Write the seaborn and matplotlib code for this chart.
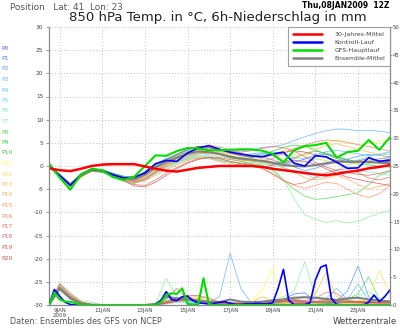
import matplotlib
matplotlib.use("Agg")
import matplotlib.pyplot as plt
from matplotlib.lines import Line2D
import numpy as np
import pandas as pd
import seaborn as sns

# ---------------- data ----------------
hours12 = list(range(0, 385, 12))
hours6 = list(range(0, 385, 6))

xtick_hours = [12, 60, 108, 156, 204, 252, 300, 348]
xtick_labels = ["9JAN\n2009", "11JAN", "13JAN", "15JAN", "17JAN", "19JAN", "21JAN", "23JAN"]

member_names = ["P%d" % i for i in range(1, 21)]
label_names = ["P%d" % i for i in range(0, 21)]
label_colors = ["#6060ff", "#4a78ff", "#5a9aff", "#70b8ff", "#60c8ff", "#70e0ff",
                "#80f0d0", "#90f0a0", "#60e060", "#40d040", "#40c040", "#ffff40",
                "#ffe060", "#ffc050", "#ffb060", "#ff9c70", "#f08870", "#e07868",
                "#d86c6c", "#d06060", "#c05858"]

climate_temp = [-0.5, -0.9, -1.1, -0.6, 0.0, 0.3, 0.4, 0.4, 0.4, -0.1, -0.6, -1.0, -1.2,
                -0.8, -0.4, -0.2, 0.0, 0.0, 0.0, 0.0, -0.2, -0.6, -0.9, -1.2, -1.5, -1.8,
                -2.0, -1.7, -1.3, -1.0, -0.5, -0.2, 0.2]
mean_temp = [0.0, -2.0, -4.0, -2.0, -0.8, -1.0, -1.8, -2.5, -2.9, -1.8, -0.3, 0.9, 1.8,
             2.6, 3.1, 3.0, 2.6, 2.0, 1.6, 1.4, 1.1, 0.7, 0.2, 0.0, -0.1, 0.2, 0.6, 0.9,
             0.9, 0.9, 0.9, 0.7, 0.6]
main_temp = [0.6, -2.5, -5.1, -1.8, -0.7, -0.9, -2.4, -3.0, -2.3, 0.0, 2.3, 2.2, 3.2,
             3.9, 3.8, 3.4, 3.4, 3.5, 3.6, 3.6, 3.3, 2.6, 0.8, 3.4, 4.3, 4.5, 5.0, 1.8,
             3.0, 3.3, 5.6, 3.5, 6.2]
control_temp = [0.0, -2.0, -4.2, -1.8, -0.7, -1.0, -1.9, -2.6, -2.4, -1.5, 0.5, 1.2, 1.0,
                2.8, 3.9, 4.4, 3.6, 3.0, 2.6, 2.2, 2.0, 2.6, 3.0, 0.6, 0.0, 2.2, 2.0, 0.8,
                -0.5, -0.4, 1.8, 1.0, 1.3]

p1_temp = [0.1, -2.2, -4.3, -1.9, -0.6, -0.9, -1.7, -2.3, -2.6, -1.2, 0.4, 1.6, 2.4, 3.4, 4.3, 4.0, 3.4, 2.8, 2.2, 1.9, 2.0, 1.3, 0.5, 0.8, 1.5, 2.2, 2.6, 1.9, 1.2, 0.8, 1.0, 1.6, 1.8]
p2_temp = [-0.1, -2.0, -3.8, -2.2, -1.0, -1.2, -2.0, -2.8, -3.1, -2.0, -0.6, 0.8, 1.9, 2.9, 3.3, 3.5, 3.2, 2.6, 2.4, 2.6, 2.9, 2.2, 1.0, -0.2, -1.0, -0.5, 0.3, 0.8, 1.5, 2.1, 2.5, 2.3, 2.0]
p3_temp = [0.0, -1.9, -3.9, -2.0, -0.9, -0.8, -1.6, -2.2, -2.5, -1.5, 0.2, 1.5, 2.6, 3.5, 4.0, 4.2, 4.0, 3.6, 3.3, 3.5, 4.0, 4.2, 4.6, 5.5, 6.3, 7.0, 7.6, 8.0, 7.9, 7.6, 7.7, 7.5, 7.2]
p4_temp = [0.2, -2.1, -4.1, -2.1, -0.7, -1.1, -1.9, -2.6, -3.2, -2.3, -0.8, 0.5, 1.5, 2.2, 2.8, 2.5, 2.0, 1.5, 1.8, 2.3, 2.6, 3.0, 2.4, 1.8, 1.6, 2.4, 3.1, 3.4, 3.0, 2.6, 2.2, 2.5, 2.9]
p5_temp = [-0.2, -2.0, -4.0, -2.3, -1.1, -1.3, -2.2, -3.0, -3.5, -2.8, -1.2, 0.2, 1.0, 1.8, 2.4, 2.2, 1.6, 1.0, 0.6, 0.4, 0.5, 0.2, -0.4, -1.0, -1.8, -2.6, -2.2, -1.0, 0.2, 1.3, 2.0, 2.6, 3.1]
p6_temp = [0.0, -2.1, -4.2, -1.8, -0.6, -0.7, -1.5, -2.4, -3.0, -2.1, -0.4, 1.2, 2.0, 2.9, 3.6, 3.2, 2.4, 1.6, 1.0, 0.8, 0.6, 0.2, -0.2, 0.3, 1.0, 1.5, 1.2, 0.6, -0.2, -0.8, -1.3, -1.6, -2.0]
p7_temp = [0.1, -1.8, -3.7, -2.0, -0.9, -1.0, -1.8, -2.7, -3.4, -2.7, -1.5, -0.5, 0.6, 1.5, 2.2, 2.0, 1.4, 0.9, 0.5, 0.4, 0.1, -0.5, -3.0, -7.0, -10.5, -11.5, -12.2, -11.8, -12.3, -12.0, -11.0, -10.2, -9.5]
p8_temp = [-0.1, -2.3, -4.4, -2.4, -1.2, -1.4, -2.4, -3.3, -3.8, -3.0, -1.6, -0.2, 0.8, 1.6, 2.0, 1.8, 1.2, 0.8, 0.6, 0.5, 0.2, -1.0, -3.0, -5.0, -6.5, -7.2, -7.0, -6.6, -6.2, -5.8, -4.0, -2.0, -1.2]
p9_temp = [0.3, -2.0, -4.0, -1.8, -0.5, -0.8, -1.6, -2.2, -2.6, -1.4, 0.3, 1.4, 2.2, 3.1, 3.6, 3.3, 2.7, 2.1, 1.7, 1.9, 2.5, 3.2, 4.0, 4.5, 4.2, 3.5, 2.5, 1.6, 0.9, 0.4, 0.2, 0.0, -0.3]
p10_temp = [0.0, -2.2, -4.5, -2.1, -0.8, -0.9, -1.8, -2.5, -2.7, -1.6, 0.0, 1.0, 1.9, 2.8, 3.3, 3.0, 2.5, 1.8, 1.3, 1.0, 0.8, 0.6, 0.9, 1.7, 2.6, 3.2, 2.8, 2.0, 1.4, 0.9, 0.6, 0.8, 1.0]
p11_temp = [-0.3, -2.4, -4.3, -2.2, -0.9, -1.0, -1.8, -2.4, -2.8, -1.8, -0.2, 1.0, 1.9, 2.8, 3.4, 3.6, 3.3, 2.6, 2.0, 1.6, 1.8, 2.6, 3.3, 3.6, 4.0, 4.5, 5.0, 5.4, 5.2, 4.6, 4.8, 5.3, 5.6]
p12_temp = [0.1, -2.3, -4.6, -2.5, -1.1, -1.2, -2.0, -2.7, -3.0, -2.0, -0.5, 0.6, 1.6, 2.3, 2.7, 2.6, 2.0, 1.5, 1.1, 0.9, 0.7, 1.0, 1.6, 2.2, 2.4, 1.8, 1.0, 0.4, 0.2, 0.6, 1.2, 1.5, 1.4]
p13_temp = [0.0, -2.0, -4.0, -2.0, -0.8, -1.0, -1.8, -2.6, -3.3, -2.5, -1.0, 0.3, 1.3, 2.4, 3.1, 3.4, 3.0, 2.3, 1.7, 1.3, 0.8, 0.4, 0.6, 1.5, 2.6, 3.6, 4.4, 4.8, 4.2, 3.6, 3.0, 2.6, 2.4]
p14_temp = [0.2, -1.9, -3.8, -1.9, -0.7, -0.9, -1.7, -2.5, -3.1, -2.2, -0.7, 0.8, 1.8, 2.9, 3.8, 4.5, 4.2, 3.5, 2.8, 2.2, 1.6, 0.8, -0.3, -1.4, -2.5, -3.0, -2.6, -2.0, -2.8, -4.0, -5.0, -4.4, -3.8]
p15_temp = [-0.1, -2.1, -4.1, -2.1, -0.9, -1.1, -2.0, -2.9, -3.6, -3.2, -2.0, -0.8, 0.3, 1.2, 1.8, 1.6, 1.0, 0.5, 0.2, 0.0, -0.6, -1.6, -3.0, -4.2, -4.8, -4.2, -3.5, -3.8, -5.0, -6.2, -6.8, -6.0, -4.2]
p16_temp = [0.0, -2.2, -4.2, -2.2, -1.0, -1.1, -2.0, -2.8, -3.5, -3.0, -1.4, 0.0, 1.0, 2.0, 2.6, 2.8, 2.5, 2.0, 1.5, 1.2, 1.0, 1.6, 2.8, 3.8, 4.5, 5.2, 5.6, 5.5, 5.1, 4.6, 4.2, 3.7, 3.2]
p17_temp = [0.1, -2.1, -4.0, -2.0, -0.8, -1.0, -1.9, -3.0, -4.0, -4.2, -3.0, -1.5, -0.3, 0.8, 1.6, 1.9, 1.8, 1.4, 1.0, 0.4, -0.5, -1.8, -3.2, -4.0, -3.6, -2.5, -1.5, -0.8, -0.6, -1.4, -2.6, -3.0, -2.4]
p18_temp = [-0.2, -2.0, -3.9, -1.9, -0.8, -0.9, -1.7, -2.6, -3.4, -2.7, -1.2, 0.4, 1.6, 2.8, 3.6, 3.9, 3.6, 3.2, 3.0, 3.3, 3.8, 4.2, 4.0, 3.2, 2.0, 0.8, -0.2, -1.0, -1.4, -1.8, -2.0, -1.6, -1.0]
p19_temp = [0.0, -2.2, -4.3, -2.3, -1.1, -1.3, -2.2, -3.2, -4.3, -4.5, -3.5, -2.0, -0.6, 0.6, 1.4, 1.8, 1.6, 1.0, 0.5, 0.1, -0.2, 0.2, 0.8, 1.2, 1.0, 0.4, -0.6, -1.6, -2.4, -2.9, -3.4, -3.8, -4.2]
p20_temp = [0.1, -2.0, -4.1, -2.0, -0.8, -1.0, -1.8, -2.5, -3.0, -2.0, -0.3, 1.2, 2.5, 3.6, 4.2, 4.0, 3.5, 2.8, 2.3, 2.0, 1.9, 2.3, 2.9, 3.3, 3.0, 2.4, 1.8, 1.2, 0.9, 1.1, 1.6, 1.2, 0.9]

# 6h precipitation (mm), right axis
main_precip = [0, 2.2, 1.0, 0.6, 0.6, 0.3, 0.1, 0, 0, 0,
               0, 0, 0, 0, 0, 0, 0, 0, 0, 0,
               0, 0.5, 1.8, 2.1, 2.0, 3.0, 0.2, 0.1, 0.1, 4.8,
               0.2, 0, 0, 0, 0, 0, 0, 0, 0, 0,
               0, 0, 0, 0, 0, 0, 0, 0, 0, 0,
               0, 0, 0, 0, 0, 0, 0, 0, 0, 0,
               0, 0, 0, 0, 0]
control_precip = [0, 2.8, 1.6, 0.5, 0.1, 0, 0, 0, 0, 0,
                  0, 0, 0, 0, 0, 0, 0, 0, 0, 0,
                  0, 0.8, 2.4, 1.0, 0.8, 1.5, 1.6, 0.8, 0.4, 0.3,
                  0.2, 0.3, 0.5, 0.6, 0.3, 0.1, 0.1, 0.2, 0.2, 0.3,
                  0.2, 0.2, 0.4, 3.0, 6.4, 0.8, 0.1, 0.1, 0.1, 0.4,
                  4.5, 6.8, 7.2, 1.2, 0.1, 0, 0, 0, 0, 0,
                  0.5, 1.8, 0.6, 1.5, 2.7]
mean_precip = [0, 3.0, 1.2, 0.3, 0.05, 0, 0, 0, 0, 0, 0.2, 1.5, 1.2, 1.0, 0.8, 0.6, 0.5,
               1.0, 0.6, 0.5, 0.6, 0.8, 1.0, 1.3, 1.4, 1.3, 1.1, 0.9, 1.2, 1.3, 1.0, 0.8, 0.6]

p1_precip = [0, 3.2, 1.4, 0.3, 0, 0, 0, 0, 0, 0, 0, 0.6, 1.0, 1.2, 0.8, 0.3, 0.2, 0.4, 0.2, 0.1, 0.3, 0.6, 1.0, 2.0, 2.2, 0.6, 0.3, 0.2, 0.5, 0.4, 0.2, 0.3, 0.2]
p2_precip = [0, 2.8, 1.2, 0.2, 0, 0, 0, 0, 0, 0, 0, 0.3, 0.8, 0.5, 0.3, 0.2, 0.1, 0.2, 0.1, 0.2, 0.3, 0.2, 0.4, 0.6, 0.3, 0.2, 0.4, 0.8, 2.5, 7.0, 1.5, 0.3, 0.2]
p3_precip = [0, 3.6, 1.8, 0.4, 0.1, 0, 0, 0, 0, 0, 0, 0.2, 0.5, 0.6, 0.4, 0.5, 1.5, 9.3, 3.0, 0.3, 0.1, 0.2, 0.3, 0.2, 0.1, 0.3, 0.5, 0.8, 0.6, 0.4, 0.3, 0.2, 0.1]
p4_precip = [0, 3.0, 1.5, 0.3, 0, 0, 0, 0, 0, 0, 0, 0.4, 0.9, 0.7, 0.5, 0.3, 0.2, 0.5, 0.3, 0.2, 0.1, 0.5, 1.0, 0.6, 0.3, 0.5, 1.2, 3.0, 1.0, 3.8, 0.8, 0.4, 0.2]
p5_precip = [0, 2.6, 1.0, 0.2, 0, 0, 0, 0, 0, 0, 0, 0.2, 0.6, 0.4, 0.3, 0.2, 0.1, 0.1, 0.1, 0.2, 0.2, 0.1, 0.2, 0.1, 0.0, 0.1, 0.0, 0.0, 0.0, 0.0, 0.0, 0.0, 0.0]
p6_precip = [0, 3.4, 1.6, 0.5, 0.1, 0, 0, 0, 0, 0, 0.1, 1.2, 0.8, 0.6, 0.5, 0.4, 0.3, 0.6, 0.4, 0.3, 0.5, 0.8, 0.6, 1.0, 1.5, 0.6, 0.4, 0.5, 0.8, 1.6, 2.5, 0.6, 0.3]
p7_precip = [0, 4.0, 2.2, 0.8, 0.5, 0, 0, 0, 0, 0, 0.3, 4.8, 1.5, 0.8, 0.6, 0.5, 0.4, 0.3, 0.3, 0.4, 0.6, 1.0, 1.5, 2.5, 7.8, 1.5, 0.5, 0.3, 0.2, 0.4, 0.6, 0.3, 0.2]
p8_precip = [0, 3.1, 1.4, 0.4, 0.1, 0, 0, 0, 0, 0, 0, 0.8, 1.2, 0.9, 0.6, 0.4, 0.2, 0.3, 0.2, 0.2, 0.4, 0.6, 0.8, 0.5, 0.4, 0.6, 0.8, 0.7, 1.0, 2.0, 5.1, 1.0, 0.4]
p9_precip = [0, 2.9, 1.3, 0.3, 0, 0, 0, 0, 0, 0, 0, 0.5, 0.9, 1.0, 0.7, 0.4, 0.2, 0.3, 0.2, 0.1, 0.2, 0.3, 0.5, 0.4, 0.3, 0.5, 0.4, 0.6, 0.9, 0.6, 0.4, 0.3, 0.5]
p10_precip = [0, 3.3, 1.5, 0.4, 0.1, 0, 0, 0, 0, 0, 0, 0.6, 1.1, 1.4, 0.9, 0.5, 0.3, 0.4, 0.2, 0.3, 0.2, 0.4, 0.3, 0.6, 0.5, 0.4, 0.3, 0.4, 0.6, 0.5, 0.7, 0.6, 0.4]
p11_precip = [0, 3.0, 1.4, 0.3, 0, 0, 0, 0, 0, 0, 0, 0.4, 0.7, 0.9, 1.2, 0.6, 0.3, 0.4, 0.5, 0.8, 2.5, 6.6, 0.5, 0.3, 0.2, 0.4, 0.6, 0.5, 0.3, 0.6, 1.0, 0.5, 0.3]
p12_precip = [0, 2.7, 1.1, 0.2, 0, 0, 0, 0, 0, 0, 0, 0.3, 0.6, 0.8, 1.0, 0.7, 0.4, 0.3, 0.2, 0.3, 0.5, 0.4, 0.3, 0.2, 0.4, 0.3, 0.5, 0.4, 0.6, 0.8, 1.0, 6.2, 2.0]
p13_precip = [0, 3.2, 1.5, 0.4, 0, 0, 0, 0, 0, 0, 0, 0.5, 0.8, 1.0, 1.3, 0.8, 0.4, 0.3, 0.2, 0.2, 0.3, 0.5, 0.6, 0.4, 0.5, 2.0, 5.8, 1.5, 0.5, 0.3, 0.4, 0.3, 0.2]
p14_precip = [0, 3.5, 1.7, 0.5, 0.1, 0, 0, 0, 0, 0, 0, 0.6, 0.9, 1.4, 1.5, 1.2, 0.6, 0.4, 0.3, 0.5, 1.5, 0.8, 0.4, 0.3, 0.2, 0.6, 0.9, 0.5, 0.4, 0.3, 0.2, 0.3, 0.4]
p15_precip = [0, 2.9, 1.2, 0.3, 0, 0, 0, 0, 0, 0, 0, 0.4, 0.6, 1.0, 0.8, 0.6, 0.4, 0.2, 0.3, 0.4, 0.3, 0.6, 0.8, 0.6, 0.4, 0.7, 1.0, 0.8, 0.6, 0.4, 0.3, 0.5, 0.6]
p16_precip = [0, 3.1, 1.4, 0.3, 0, 0, 0, 0, 0, 0, 0, 0.5, 0.8, 1.1, 0.9, 0.5, 0.3, 0.3, 0.2, 0.3, 0.5, 0.7, 0.9, 1.0, 0.8, 1.2, 2.3, 2.1, 0.8, 0.5, 0.4, 0.3, 0.5]
p17_precip = [0, 3.8, 2.0, 0.6, 0.1, 0, 0, 0, 0, 0, 0.1, 1.0, 3.0, 1.0, 0.7, 0.5, 0.3, 0.4, 0.3, 0.2, 0.4, 0.5, 0.6, 0.5, 0.4, 0.5, 0.6, 0.9, 0.7, 0.5, 0.4, 0.6, 0.8]
p18_precip = [0, 3.3, 1.6, 0.4, 0, 0, 0, 0, 0, 0, 0, 0.6, 1.0, 1.7, 1.7, 1.2, 0.5, 0.4, 0.3, 0.4, 0.6, 0.8, 1.0, 0.7, 0.5, 0.4, 0.6, 0.5, 0.4, 0.6, 0.5, 0.4, 0.3]
p19_precip = [0, 2.8, 1.2, 0.3, 0, 0, 0, 0, 0, 0, 0, 0.3, 0.7, 0.9, 0.6, 0.4, 0.3, 0.2, 0.3, 0.2, 0.3, 0.4, 0.6, 0.8, 0.6, 0.5, 0.7, 0.6, 0.5, 0.7, 0.6, 0.4, 0.5]
p20_precip = [0, 3.0, 1.3, 0.3, 0, 0, 0, 0, 0, 0, 0, 0.4, 0.8, 1.0, 0.8, 0.6, 0.4, 0.3, 0.2, 0.3, 0.4, 0.5, 0.7, 0.9, 0.7, 0.6, 0.5, 0.4, 0.6, 0.5, 0.4, 0.5, 0.6]

pert_temps = [p1_temp, p2_temp, p3_temp, p4_temp, p5_temp, p6_temp, p7_temp, p8_temp,
              p9_temp, p10_temp, p11_temp, p12_temp, p13_temp, p14_temp, p15_temp,
              p16_temp, p17_temp, p18_temp, p19_temp, p20_temp]
pert_precips = [p1_precip, p2_precip, p3_precip, p4_precip, p5_precip, p6_precip,
                p7_precip, p8_precip, p9_precip, p10_precip, p11_precip, p12_precip,
                p13_precip, p14_precip, p15_precip, p16_precip, p17_precip, p18_precip,
                p19_precip, p20_precip]

legend_labels = ["30-Jahres-Mittel", "Kontroll-Lauf", "GFS-Hauptlauf", "Ensemble-Mittel"]

# ---------------- tables ----------------
rows_t, rows_p = [], []
for name, tv, pv in zip(member_names, pert_temps, pert_precips):
    for h, t, p in zip(hours12, tv, pv):
        rows_t.append((name, h, t))
        rows_p.append((name, h, p))
df_t = pd.DataFrame(rows_t, columns=["member", "hour", "value"])
df_p = pd.DataFrame(rows_p, columns=["member", "hour", "value"])
palette = dict(zip(member_names, label_colors[1:]))

# ---------------- figure ----------------
sns.set_style("white")
plt.rcParams["font.family"] = ["DejaVu Sans"]

fig = plt.figure(figsize=(4.0, 3.34), dpi=100)
ax = fig.add_axes([49 / 400, 1 - 305 / 334, (390 - 49) / 400, (305 - 27) / 334])
ax2 = ax.twinx()

RED, BLUE, GREEN, GREY = "#ff0000", "#0000ff", "#00dd00", "#808080"
axcol = "#8a8a8a"
txtcol = "#444444"

# temperature spaghetti
sns.lineplot(data=df_t, x="hour", y="value", hue="member", palette=palette,
             linewidth=0.6, alpha=0.85, legend=False, estimator=None, ax=ax)
sns.lineplot(x=hours12, y=mean_temp, color=GREY, linewidth=1.5, ax=ax)
sns.lineplot(x=hours12, y=control_temp, color=BLUE, linewidth=1.2, ax=ax)
sns.lineplot(x=hours12, y=main_temp, color=GREEN, linewidth=1.5, ax=ax)
sns.lineplot(x=hours12, y=climate_temp, color=RED, linewidth=1.8, ax=ax)

# precipitation spaghetti
sns.lineplot(data=df_p, x="hour", y="value", hue="member", palette=palette,
             linewidth=0.6, alpha=0.85, legend=False, estimator=None, ax=ax2)
sns.lineplot(x=hours12, y=mean_precip, color=GREY, linewidth=1.5, ax=ax2)
sns.lineplot(x=hours6, y=control_precip, color=BLUE, linewidth=1.2, ax=ax2)
sns.lineplot(x=hours6, y=main_precip, color=GREEN, linewidth=1.5, ax=ax2)

ax.set_xlim(0, 384)
ax.set_ylim(-30, 30)
ax2.set_ylim(0, 50)
ax.set_xlabel("")
ax.set_ylabel("")
ax2.set_xlabel("")
ax2.set_ylabel("")

ax.set_yticks(list(range(-30, 31, 5)))
ax.set_yticklabels([str(v) for v in range(-30, 31, 5)])
ax2.set_yticks(list(range(0, 51, 5)))
ax2.set_yticklabels([str(v) for v in range(0, 51, 5)])
ax.set_xticks(xtick_hours)
ax.set_xticklabels(xtick_labels, linespacing=1.0)

for a in (ax, ax2):
    for s in a.spines.values():
        s.set_color(axcol)
        s.set_linewidth(0.9)
    a.spines["top"].set_visible(False)
ax.spines["right"].set_visible(False)
ax2.spines["left"].set_visible(False)
ax2.spines["bottom"].set_visible(False)

ax.tick_params(axis="y", direction="out", length=2.5, width=0.6, color=axcol,
               labelsize=4.2, labelcolor=txtcol, pad=1.5)
ax2.tick_params(axis="y", direction="out", length=1.6, width=0.6, color=axcol,
                labelsize=3.8, labelcolor=txtcol, pad=0.6)
ax.tick_params(axis="x", direction="out", length=0, labelsize=4.0,
               labelcolor=txtcol, pad=2)

ax.grid(True, color="#b0b0b0", linestyle=(0, (1, 2.5)), linewidth=0.6)
ax.set_axisbelow(True)

# legend
handles = [Line2D([], [], color=c, linewidth=1.8) for c in (RED, BLUE, GREEN, GREY)]
leg = ax2.legend(handles, legend_labels, loc="upper right", bbox_to_anchor=(1.0, 1.0),
                 frameon=True, fancybox=False, fontsize=4.5, handlelength=4.6,
                 handletextpad=2.0, borderpad=0.8, labelspacing=0.4,
                 borderaxespad=0.0)
leg.get_frame().set_edgecolor(axcol)
leg.get_frame().set_linewidth(0.8)
for t in leg.get_texts():
    t.set_color(txtcol)

# left member labels
for i, (nm, col) in enumerate(zip(label_names, label_colors)):
    fig.text(1 / 400, 1 - (48 + i * 10.5) / 334, nm, color=col, fontsize=4.3,
             ha="left", va="center")

# header and footer
fig.text(10 / 400, 1 - 7 / 334, "Position   Lat: 41  Lon: 23", color="#555555",
         fontsize=6.4, ha="left", va="center")
fig.text(390 / 400, 1 - 6 / 334, "Thu,08JAN2009  12Z", color="black",
         fontsize=5.5, fontweight="bold", ha="right", va="center")
fig.text(218 / 400, 1 - 17 / 334, "850 hPa Temp. in °C, 6h-Niederschlag in mm",
         color="#222222", fontsize=9.5, ha="center", va="center")
fig.text(10 / 400, 1 - 321 / 334, "Daten: Ensembles des GFS von NCEP", color="#555555",
         fontsize=5.9, ha="left", va="center")
fig.text(397 / 400, 1 - 321 / 334, "Wetterzentrale", color="#444444",
         fontsize=6.2, ha="right", va="center")

fig.savefig("out.png", dpi=100, facecolor="white")
